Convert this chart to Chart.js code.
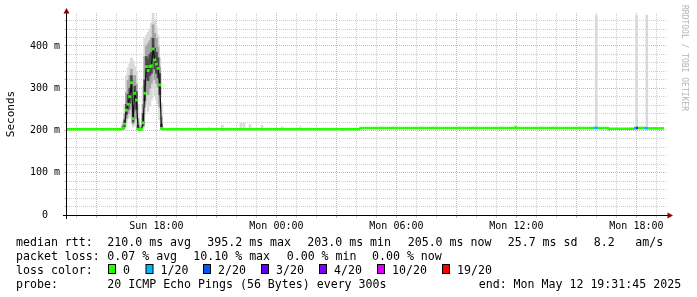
<!DOCTYPE html>
<html>
<head>
<meta charset="utf-8">
<script src="https://cdn.jsdelivr.net/npm/chart.js"></script>
<style>
  html, body { margin: 0; padding: 0; background: #fff; }
</style>
</head>
<body>
<canvas id="chart1" width="697" height="297"></canvas>
<script>
// time is hours since Sun 00:00, values are ms
var startHour = 13.529, endHour = 43.529;   // Sun 13:31:45 .. Mon 19:31:45

var times = [13.529, 16.25, 16.333, 16.417, 16.5, 16.583, 16.667, 16.75, 16.833, 16.917, 17.0,
  17.083, 17.167, 17.25, 17.333, 17.417, 17.5, 17.583, 17.667, 17.75, 17.833, 17.917, 18.0,
  18.083, 18.167, 18.25, 18.333, 28.15, 28.2, 35.92, 35.96, 36.02, 39.879, 40.079, 40.58,
  40.62, 41.83, 41.879, 41.979, 42.079, 42.379, 42.579, 43.38];
var median = [203, 203, 206, 215, 248, 262, 280, 313, 228, 288, 272,
  203, 202, 203, 218, 288, 351, 342, 351, 353, 393, 367, 357,
  347, 308, 205, 203, 203, 206, 206, 208, 206, 206, 206, 206,
  204, 204, 206, 206, 206, 206, 205, 205];
// lost pings out of 20
var loss = [0, 0, 0, 0, 0, 0, 0, 0, 0, 0, 0,
  0, 0, 0, 0, 0, 0, 0, 0, 0, 0, 0, 0,
  0, 0, 0, 0, 0, 0, 0, 0, 0, 1, 0, 0,
  0, 0, 1, 3, 0, 1, 0, 0];

// smoke (spread of the 20 pings)
var smokeTimes = [16.25, 16.333, 16.417, 16.5, 16.583, 16.667, 16.75, 16.833, 16.917, 17.0,
  17.083, 17.167, 17.25, 17.333, 17.417, 17.5, 17.583, 17.667, 17.75, 17.833, 17.917, 18.0,
  18.083, 18.167, 18.25, 18.333,
  20.63, 21.30, 22.23, 22.38, 22.68, 23.28, 24.28, 25.18, 39.99, 42.01, 42.52];
var smokeLo = [201, 200, 205, 218, 228, 232, 240, 208, 222, 210,
  200, 200, 201, 204, 238, 262, 245, 258, 272, 300, 282, 272,
  262, 225, 203, 201,
  203, 203, 203, 203, 203, 203, 203, 203, 206, 206, 206];
var smokeHi = [206, 222, 262, 330, 348, 358, 372, 365, 352, 340,
  262, 214, 212, 305, 418, 425, 432, 440, 455, 478, 462, 445,
  425, 372, 265, 207,
  207, 213, 218, 217, 214, 212, 209, 209, 473, 473, 473];
var midLo = [202, 202, 208, 228, 240, 250, 262, 215, 245, 228,
  201, 201, 202, 208, 255, 290, 285, 300, 312, 338, 320, 312,
  302, 255, 204, 202,
  null, null, null, null, null, null, null, null, null, null, null];
var midHi = [205, 214, 240, 290, 318, 330, 345, 320, 330, 310,
  228, 207, 207, 262, 375, 400, 405, 412, 420, 450, 430, 418,
  398, 350, 232, 205,
  null, null, null, null, null, null, null, null, null, null, null];
var coreLo = [null, 204, 210, 238, 250, 265, 290, 220, 270, 250,
  202, null, null, 212, 270, 325, 318, 330, 335, 370, 345, 335,
  325, 285, 204, null,
  null, null, null, null, null, null, null, null, null, null, null];
var coreHi = [null, 209, 225, 262, 285, 300, 330, 260, 305, 292,
  212, null, null, 240, 320, 375, 368, 380, 385, 418, 395, 385,
  372, 335, 215, null,
  null, null, null, null, null, null, null, null, null, null, null];

var xTickHours = [18, 24, 30, 36, 42];
var xTickLabels = ['Sun 18:00', 'Mon 00:00', 'Mon 06:00', 'Mon 12:00', 'Mon 18:00'];
var yTickValues = [0, 100, 200, 300, 400];
var yTickLabels = ['0  ', '100 m', '200 m', '300 m', '400 m'];

var lossSteps = [0, 1, 2, 3, 4, 10, 19];
var lossNames = ['0', '1/20', '2/20', '3/20', '4/20', '10/20', '19/20'];
var lossColors = ['#26ff00', '#00b8ff', '#0059ff', '#5e00ff', '#7e00ff', '#dd00ff', '#ff0000'];

function lossColor(n) {
  var c = lossColors[0];
  for (var i = 0; i < lossSteps.length; i++) if (n >= lossSteps[i]) c = lossColors[i];
  return c;
}
function range(lo, hi) {
  return smokeTimes.map(function (t, i) {
    return { x: t, y: lo[i] == null ? null : [lo[i], hi[i]] };
  });
}

var mono = 'DejaVu Sans Mono';
var MGRID = '#eeaaaa', GRID = '#cccccc';

var frame = {
  id: 'frame',
  afterDraw: function (chart) {
    var c = chart.ctx, a = chart.chartArea;
    c.save();
    c.strokeStyle = '#000';
    c.lineWidth = 1;
    c.beginPath();
    c.moveTo(a.left - 4, a.bottom + 0.5); c.lineTo(a.right + 2, a.bottom + 0.5);
    c.moveTo(a.left - 0.5, a.bottom + 4); c.lineTo(a.left - 0.5, a.top);
    c.stroke();
    c.fillStyle = '#8b0000';
    c.beginPath();
    c.moveTo(a.left - 0.5, a.top - 5); c.lineTo(a.left - 3.5, a.top + 0.5); c.lineTo(a.left + 2.5, a.top + 0.5);
    c.closePath(); c.fill();
    c.beginPath();
    c.moveTo(a.right + 6, a.bottom + 0.5); c.lineTo(a.right + 0.5, a.bottom - 2.5); c.lineTo(a.right + 0.5, a.bottom + 3.5);
    c.closePath(); c.fill();

    // unit label
    c.fillStyle = '#000';
    c.font = '11px ' + mono;
    c.textAlign = 'center';
    c.textBaseline = 'middle';
    c.save();
    c.translate(11, 114);
    c.rotate(-Math.PI / 2);
    c.fillText('Seconds', 0, 0);
    c.restore();

    // watermark
    c.save();
    c.fillStyle = '#b4b4b4';
    c.font = '8px ' + mono;
    c.textAlign = 'left';
    c.translate(684, 5);
    c.rotate(Math.PI / 2);
    c.fillText('RRDTOOL / TOBI OETIKER', 0, 0);
    c.restore();

    // legend
    c.font = '11.6px ' + mono;
    c.textAlign = 'left';
    c.textBaseline = 'alphabetic';
    var rows = [
      [245.5, [[16, 'median rtt:'], [107.3, '210.0 ms avg'], [207.3, '395.2 ms max'], [307.3, '203.0 ms min'],
        [407.7, '205.0 ms now'], [507.7, '25.7 ms sd'], [593.7, '8.2'], [635.3, 'am/s']]],
      [259.8, [[16, 'packet loss:'], [107.3, '0.07 % avg'], [193.3, '10.10 % max'], [286.7, '0.00 % min'],
        [372, '0.00 % now']]],
      [274, [[16, 'loss color:']]],
      [288.2, [[16, 'probe:'], [107.3, '20 ICMP Echo Pings (56 Bytes) every 300s'],
        [478.7, 'end: Mon May 12 19:31:45 2025']]]
    ];
    rows.forEach(function (r) {
      r[1].forEach(function (p) { c.fillText(p[1], p[0], r[0]); });
    });
    var boxX = [108.5, 146, 203.5, 261.5, 319.5, 377.5, 442.5];
    lossNames.forEach(function (name, i) {
      c.fillStyle = lossColors[i];
      c.fillRect(boxX[i], 264.5, 7, 9);
      c.strokeStyle = '#000';
      c.strokeRect(boxX[i], 264.5, 7, 9);
      c.fillStyle = '#000';
      c.fillText(name, boxX[i] + 14.5, 274);
    });
    c.restore();
  }
};

var ctx = document.getElementById('chart1').getContext('2d');
var myChart = new Chart(ctx, {
  type: 'line',
  data: {
    datasets: [{
      label: 'median',
      order: 0,
      data: times.map(function (t, i) { return { x: t, y: median[i] }; }),
      borderColor: lossColors[0],
      borderWidth: 2.6,
      tension: 0,
      fill: false,
      pointStyle: 'rect',
      pointBorderWidth: 0,
      pointRadius: function (c) {
        var i = c.dataIndex, v = median[i];
        var p = i > 0 ? median[i - 1] : v, n = i < median.length - 1 ? median[i + 1] : v;
        return (Math.abs(v - p) >= 5 || Math.abs(v - n) >= 5) ? 2 : 0;
      },
      pointBackgroundColor: function (c) { return lossColor(loss[c.dataIndex]); },
      segment: {
        borderColor: function (c) {
          var l = loss[c.p0DataIndex];
          if (l > 0) return lossColor(l);
          return Math.abs(c.p1.parsed.y - c.p0.parsed.y) >= 5 ? '#111' : lossColors[0];
        },
        borderWidth: function (c) {
          if (loss[c.p0DataIndex] > 0) return 2.6;
          return Math.abs(c.p1.parsed.y - c.p0.parsed.y) >= 5 ? 1.2 : 2.6;
        }
      }
    }, {
      type: 'bar', label: 'core', order: 1, grouped: false,
      data: range(coreLo, coreHi), backgroundColor: '#4a4a4a', barThickness: 2
    }, {
      type: 'bar', label: 'mid', order: 2, grouped: false,
      data: range(midLo, midHi), backgroundColor: '#a4a4a4', barThickness: 2
    }, {
      type: 'bar', label: 'smoke', order: 3, grouped: false,
      data: range(smokeLo, smokeHi), backgroundColor: '#d9d9d9', barThickness: 2
    }]
  },
  options: {
    responsive: false,
    animation: false,
    events: [],
    layout: { padding: { left: 0, right: 30, top: 13, bottom: 0 } },
    plugins: { legend: { display: false }, tooltip: { enabled: false } },
    scales: {
      x: {
        type: 'linear',
        min: startHour,
        max: endHour,
        offset: false,
        afterFit: function (s) { s.height = 82; },
        afterBuildTicks: function (s) {
          var t = [];
          for (var h = Math.ceil(startHour); h <= endHour; h++) t.push({ value: h });
          s.ticks = t;
        },
        border: { display: false, dash: [1, 1] },
        grid: {
          offset: false,
          color: function (c) { return c.tick.value % 3 === 0 ? MGRID : GRID; },
          tickColor: function (c) { return c.tick.value % 3 === 0 ? MGRID : GRID; },
          tickLength: 3,
          tickBorderDash: []
        },
        ticks: {
          autoSkip: false,
          maxRotation: 0,
          padding: 2,
          color: '#000',
          font: { family: mono, size: 10 },
          callback: function (v) {
            var k = xTickHours.indexOf(v);
            return k < 0 ? '' : xTickLabels[k];
          }
        }
      },
      y: {
        min: 0,
        max: 478,
        afterFit: function (s) { s.width = 67; },
        afterBuildTicks: function (s) {
          var t = [];
          for (var v = 0; v <= 460; v += 20) t.push({ value: v });
          s.ticks = t;
        },
        border: { display: false, dash: [1, 1] },
        grid: {
          color: function (c) { return c.tick.value % 100 === 0 ? MGRID : GRID; },
          tickColor: function (c) { return c.tick.value % 100 === 0 ? MGRID : GRID; },
          tickLength: 3,
          tickBorderDash: []
        },
        ticks: {
          autoSkip: false,
          padding: 4,
          color: '#000',
          font: { family: mono, size: 10 },
          callback: function (v) {
            var k = yTickValues.indexOf(v);
            return k < 0 ? '' : yTickLabels[k];
          }
        }
      }
    }
  },
  plugins: [frame]
});
</script>
</body>
</html>
